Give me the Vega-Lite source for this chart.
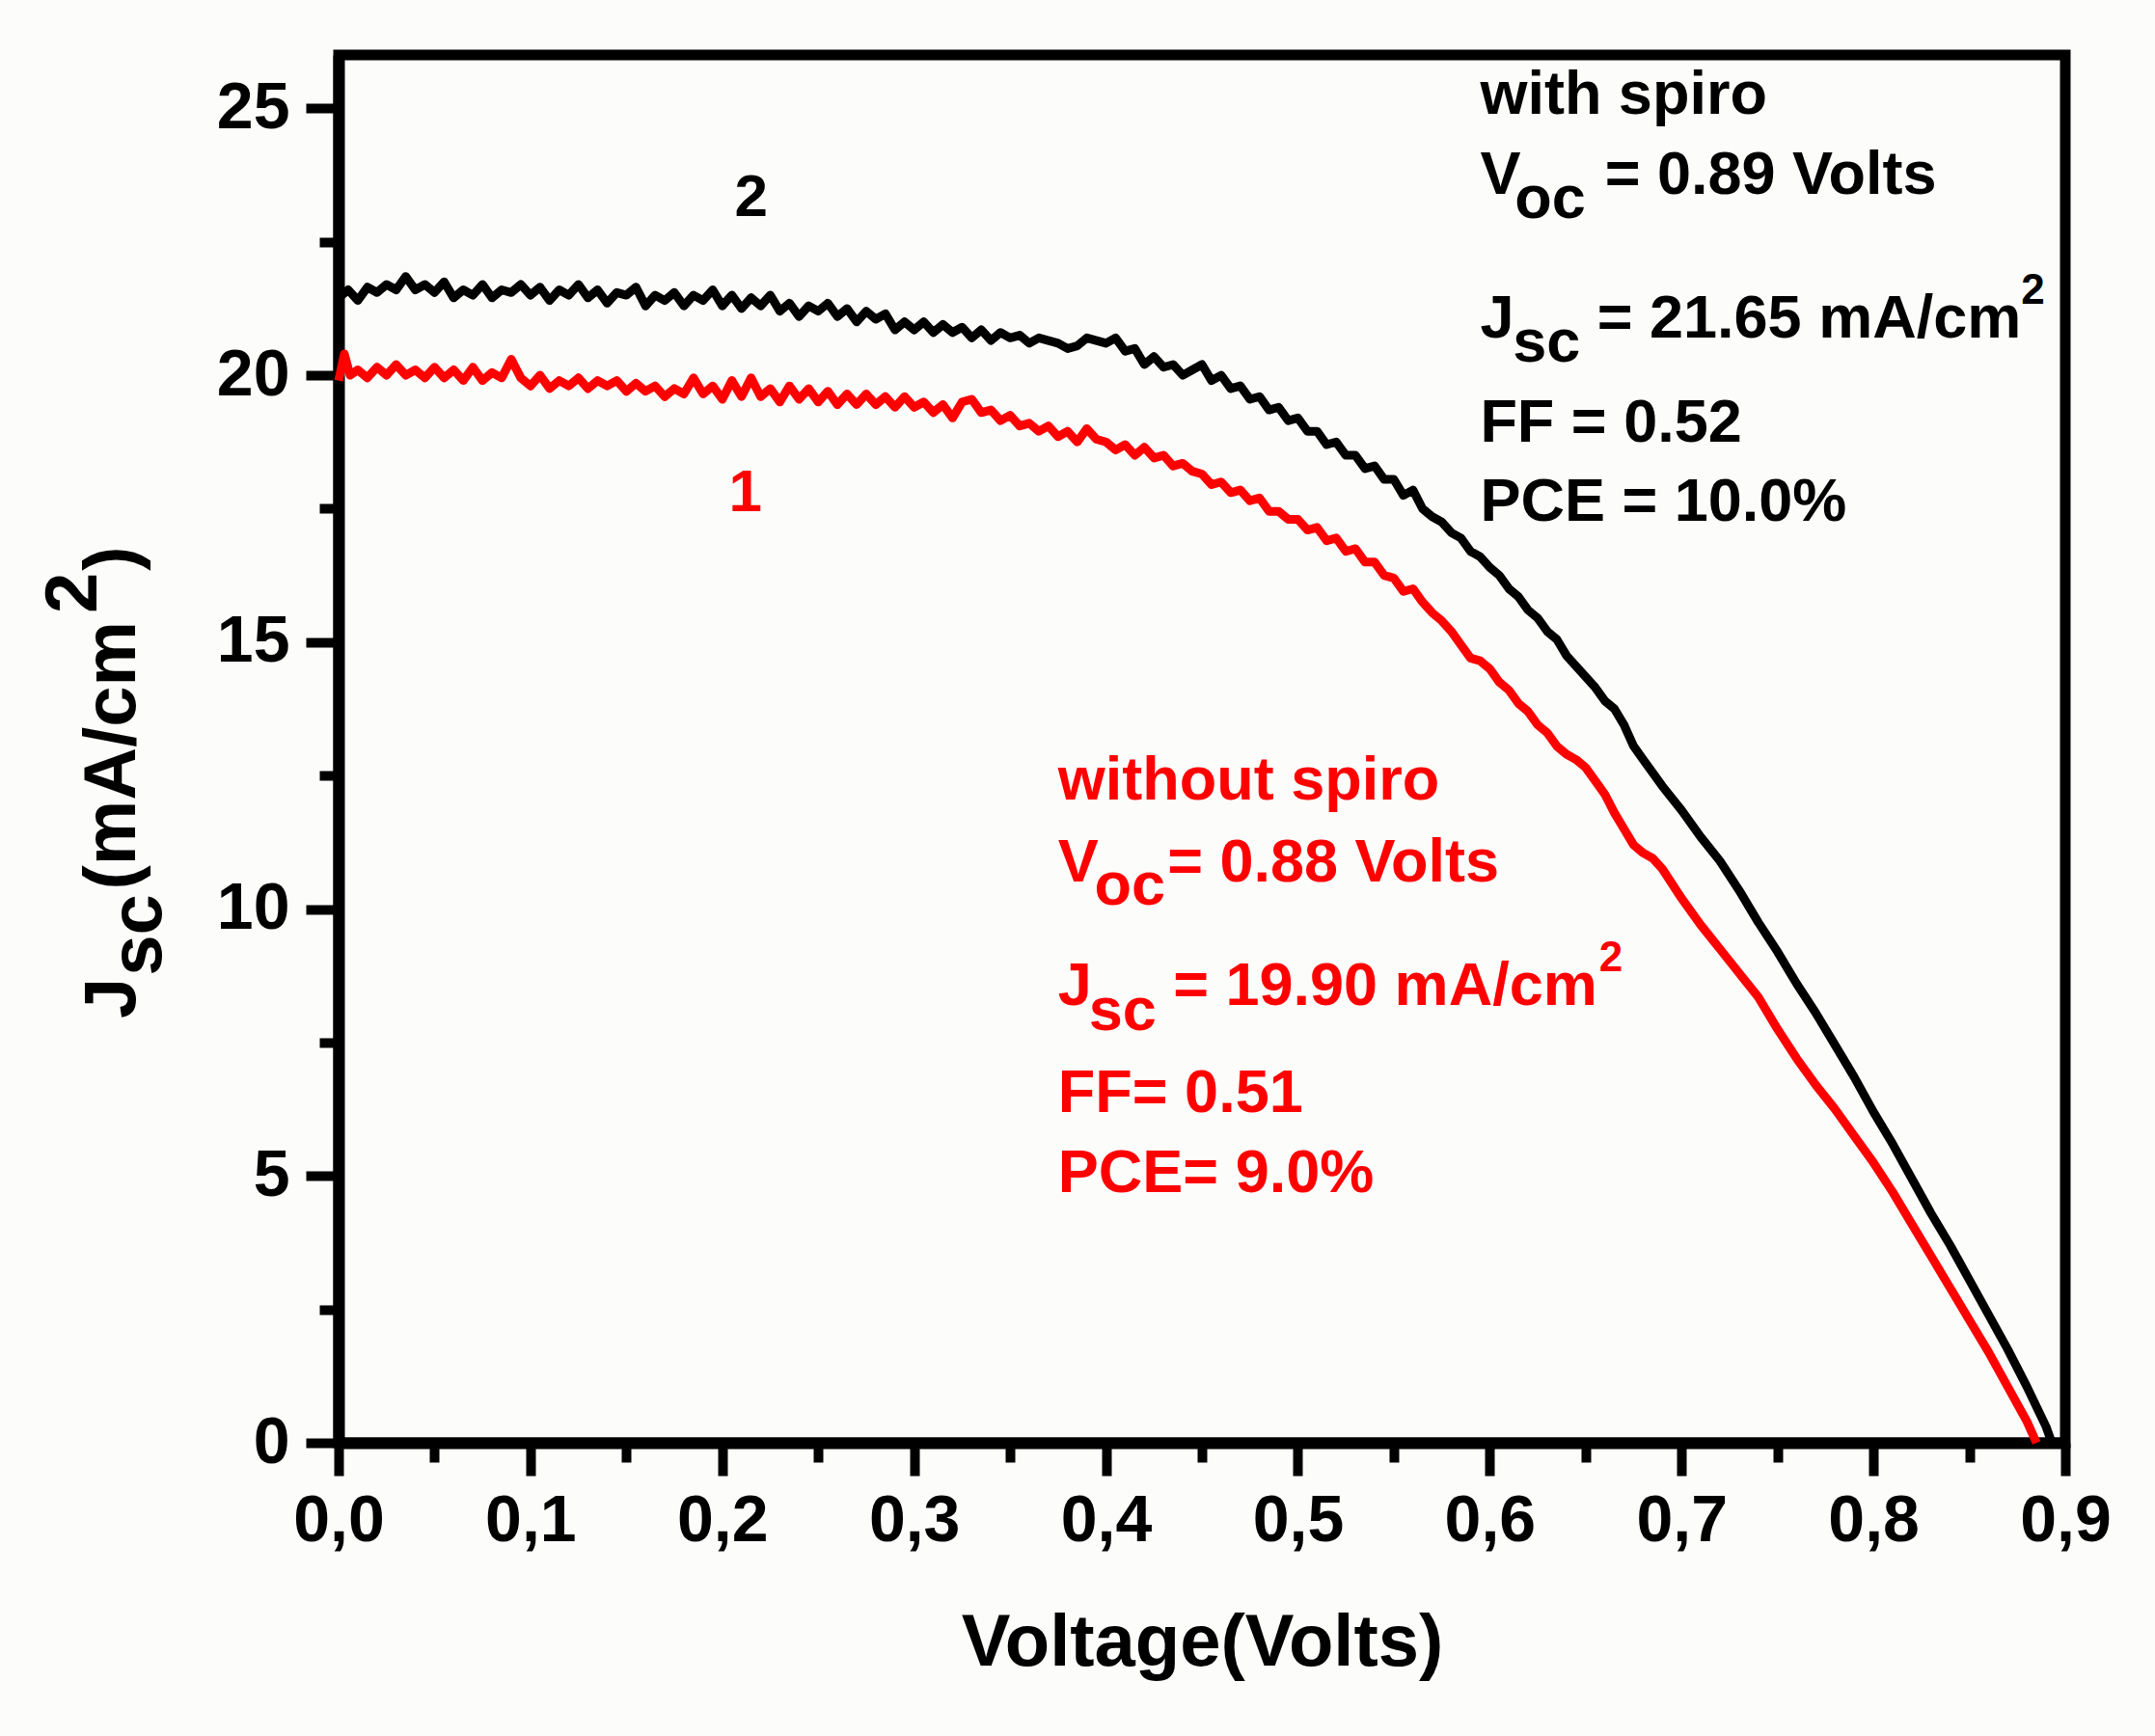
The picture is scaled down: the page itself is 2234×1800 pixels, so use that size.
{
  "$schema": "https://vega.github.io/schema/vega-lite/v6.json",
  "width": 1790,
  "height": 1439,
  "autosize": {"type": "none"},
  "padding": {"left": 351, "top": 57, "right": 93, "bottom": 304},
  "background": "#fcfcfb",
  "config": {
    "view": {"stroke": "#000000", "strokeWidth": 11},
    "font": "Liberation Sans",
    "text": {"font": "Liberation Sans", "fontWeight": "bold"}
  },
  "encoding": {
    "x": {
      "field": "V",
      "type": "quantitative",
      "scale": {"domain": [0, 0.9], "nice": false, "zero": false},
      "axis": {
        "title": "Voltage(Volts)",
        "values": [0, 0.05, 0.1, 0.15, 0.2, 0.25, 0.3, 0.35, 0.4, 0.45, 0.5, 0.55, 0.6, 0.65, 0.7, 0.75, 0.8, 0.85, 0.9],
        "labelExpr": "round(datum.value*100) % 10 === 0 ? replace(format(datum.value, '.1f'), '.', ',') : ''",
        "grid": false,
        "domainColor": "#000000",
        "domainWidth": 12,
        "tickColor": "#000000",
        "tickWidth": 10,
        "tickSize": {"condition": {"test": "round(datum.value*100) % 10 === 0", "value": 34}, "value": 20},
        "labelFont": "Liberation Sans",
        "labelFontWeight": "bold",
        "labelFontSize": 68,
        "labelColor": "#000000",
        "labelPadding": 13,
        "labelOverlap": false,
        "labelFlush": false,
        "titleFont": "Liberation Sans",
        "titleFontWeight": "bold",
        "titleFontSize": 76,
        "titleColor": "#000000",
        "titlePadding": 55
      }
    },
    "y": {
      "field": "J",
      "type": "quantitative",
      "scale": {"domain": [0, 26], "nice": false},
      "axis": {
        "title": null,
        "values": [0, 2.5, 5, 7.5, 10, 12.5, 15, 17.5, 20, 22.5, 25],
        "labelExpr": "datum.value % 5 === 0 ? format(datum.value, 'd') : ''",
        "grid": false,
        "domainColor": "#000000",
        "domainWidth": 12,
        "tickColor": "#000000",
        "tickWidth": 10,
        "tickSize": {"condition": {"test": "datum.value % 5 === 0", "value": 34}, "value": 20},
        "labelFont": "Liberation Sans",
        "labelFontWeight": "bold",
        "labelFontSize": 68,
        "labelColor": "#000000",
        "labelPadding": 17,
        "labelOverlap": false,
        "labelFlush": false
      }
    }
  },
  "layer": [
    {
      "data": {
        "values": [
          {"s": "with spiro", "V": 0.000, "J": 21.45},
          {"s": "with spiro", "V": 0.005, "J": 21.6},
          {"s": "with spiro", "V": 0.010, "J": 21.4},
          {"s": "with spiro", "V": 0.015, "J": 21.65},
          {"s": "with spiro", "V": 0.020, "J": 21.55},
          {"s": "with spiro", "V": 0.025, "J": 21.7},
          {"s": "with spiro", "V": 0.030, "J": 21.6},
          {"s": "with spiro", "V": 0.035, "J": 21.85},
          {"s": "with spiro", "V": 0.040, "J": 21.6},
          {"s": "with spiro", "V": 0.045, "J": 21.7},
          {"s": "with spiro", "V": 0.050, "J": 21.55},
          {"s": "with spiro", "V": 0.055, "J": 21.75},
          {"s": "with spiro", "V": 0.060, "J": 21.45},
          {"s": "with spiro", "V": 0.065, "J": 21.6},
          {"s": "with spiro", "V": 0.070, "J": 21.5},
          {"s": "with spiro", "V": 0.075, "J": 21.7},
          {"s": "with spiro", "V": 0.080, "J": 21.45},
          {"s": "with spiro", "V": 0.085, "J": 21.6},
          {"s": "with spiro", "V": 0.090, "J": 21.55},
          {"s": "with spiro", "V": 0.095, "J": 21.7},
          {"s": "with spiro", "V": 0.100, "J": 21.5},
          {"s": "with spiro", "V": 0.105, "J": 21.65},
          {"s": "with spiro", "V": 0.110, "J": 21.4},
          {"s": "with spiro", "V": 0.115, "J": 21.6},
          {"s": "with spiro", "V": 0.120, "J": 21.5},
          {"s": "with spiro", "V": 0.125, "J": 21.7},
          {"s": "with spiro", "V": 0.130, "J": 21.45},
          {"s": "with spiro", "V": 0.135, "J": 21.6},
          {"s": "with spiro", "V": 0.140, "J": 21.35},
          {"s": "with spiro", "V": 0.145, "J": 21.55},
          {"s": "with spiro", "V": 0.150, "J": 21.5},
          {"s": "with spiro", "V": 0.155, "J": 21.65},
          {"s": "with spiro", "V": 0.160, "J": 21.3},
          {"s": "with spiro", "V": 0.165, "J": 21.5},
          {"s": "with spiro", "V": 0.170, "J": 21.4},
          {"s": "with spiro", "V": 0.175, "J": 21.55},
          {"s": "with spiro", "V": 0.180, "J": 21.3},
          {"s": "with spiro", "V": 0.185, "J": 21.5},
          {"s": "with spiro", "V": 0.190, "J": 21.4},
          {"s": "with spiro", "V": 0.195, "J": 21.6},
          {"s": "with spiro", "V": 0.200, "J": 21.3},
          {"s": "with spiro", "V": 0.205, "J": 21.5},
          {"s": "with spiro", "V": 0.210, "J": 21.25},
          {"s": "with spiro", "V": 0.215, "J": 21.45},
          {"s": "with spiro", "V": 0.220, "J": 21.3},
          {"s": "with spiro", "V": 0.225, "J": 21.5},
          {"s": "with spiro", "V": 0.230, "J": 21.2},
          {"s": "with spiro", "V": 0.235, "J": 21.35},
          {"s": "with spiro", "V": 0.240, "J": 21.1},
          {"s": "with spiro", "V": 0.245, "J": 21.3},
          {"s": "with spiro", "V": 0.250, "J": 21.2},
          {"s": "with spiro", "V": 0.255, "J": 21.35},
          {"s": "with spiro", "V": 0.260, "J": 21.1},
          {"s": "with spiro", "V": 0.265, "J": 21.25},
          {"s": "with spiro", "V": 0.270, "J": 21.0},
          {"s": "with spiro", "V": 0.275, "J": 21.2},
          {"s": "with spiro", "V": 0.280, "J": 21.05},
          {"s": "with spiro", "V": 0.285, "J": 21.15},
          {"s": "with spiro", "V": 0.290, "J": 20.85},
          {"s": "with spiro", "V": 0.295, "J": 21.0},
          {"s": "with spiro", "V": 0.300, "J": 20.85},
          {"s": "with spiro", "V": 0.305, "J": 21.0},
          {"s": "with spiro", "V": 0.310, "J": 20.8},
          {"s": "with spiro", "V": 0.315, "J": 20.95},
          {"s": "with spiro", "V": 0.320, "J": 20.8},
          {"s": "with spiro", "V": 0.325, "J": 20.9},
          {"s": "with spiro", "V": 0.330, "J": 20.7},
          {"s": "with spiro", "V": 0.335, "J": 20.85},
          {"s": "with spiro", "V": 0.340, "J": 20.65},
          {"s": "with spiro", "V": 0.345, "J": 20.8},
          {"s": "with spiro", "V": 0.350, "J": 20.7},
          {"s": "with spiro", "V": 0.355, "J": 20.75},
          {"s": "with spiro", "V": 0.360, "J": 20.6},
          {"s": "with spiro", "V": 0.365, "J": 20.7},
          {"s": "with spiro", "V": 0.370, "J": 20.65},
          {"s": "with spiro", "V": 0.375, "J": 20.6},
          {"s": "with spiro", "V": 0.380, "J": 20.5},
          {"s": "with spiro", "V": 0.385, "J": 20.55},
          {"s": "with spiro", "V": 0.390, "J": 20.7},
          {"s": "with spiro", "V": 0.395, "J": 20.65},
          {"s": "with spiro", "V": 0.400, "J": 20.6},
          {"s": "with spiro", "V": 0.405, "J": 20.7},
          {"s": "with spiro", "V": 0.410, "J": 20.45},
          {"s": "with spiro", "V": 0.415, "J": 20.5},
          {"s": "with spiro", "V": 0.420, "J": 20.2},
          {"s": "with spiro", "V": 0.425, "J": 20.35},
          {"s": "with spiro", "V": 0.430, "J": 20.15},
          {"s": "with spiro", "V": 0.435, "J": 20.2},
          {"s": "with spiro", "V": 0.440, "J": 20.0},
          {"s": "with spiro", "V": 0.445, "J": 20.1},
          {"s": "with spiro", "V": 0.450, "J": 20.2},
          {"s": "with spiro", "V": 0.455, "J": 19.9},
          {"s": "with spiro", "V": 0.460, "J": 20.0},
          {"s": "with spiro", "V": 0.465, "J": 19.75},
          {"s": "with spiro", "V": 0.470, "J": 19.8},
          {"s": "with spiro", "V": 0.475, "J": 19.55},
          {"s": "with spiro", "V": 0.480, "J": 19.6},
          {"s": "with spiro", "V": 0.485, "J": 19.35},
          {"s": "with spiro", "V": 0.490, "J": 19.4},
          {"s": "with spiro", "V": 0.495, "J": 19.15},
          {"s": "with spiro", "V": 0.500, "J": 19.2},
          {"s": "with spiro", "V": 0.505, "J": 18.95},
          {"s": "with spiro", "V": 0.510, "J": 18.95},
          {"s": "with spiro", "V": 0.515, "J": 18.7},
          {"s": "with spiro", "V": 0.520, "J": 18.75},
          {"s": "with spiro", "V": 0.525, "J": 18.5},
          {"s": "with spiro", "V": 0.530, "J": 18.5},
          {"s": "with spiro", "V": 0.535, "J": 18.25},
          {"s": "with spiro", "V": 0.540, "J": 18.3},
          {"s": "with spiro", "V": 0.545, "J": 18.05},
          {"s": "with spiro", "V": 0.550, "J": 18.05},
          {"s": "with spiro", "V": 0.555, "J": 17.75},
          {"s": "with spiro", "V": 0.560, "J": 17.85},
          {"s": "with spiro", "V": 0.565, "J": 17.5},
          {"s": "with spiro", "V": 0.570, "J": 17.35},
          {"s": "with spiro", "V": 0.575, "J": 17.25},
          {"s": "with spiro", "V": 0.580, "J": 17.05},
          {"s": "with spiro", "V": 0.585, "J": 16.95},
          {"s": "with spiro", "V": 0.590, "J": 16.7},
          {"s": "with spiro", "V": 0.595, "J": 16.6},
          {"s": "with spiro", "V": 0.600, "J": 16.4},
          {"s": "with spiro", "V": 0.605, "J": 16.25},
          {"s": "with spiro", "V": 0.610, "J": 16.0},
          {"s": "with spiro", "V": 0.615, "J": 15.85},
          {"s": "with spiro", "V": 0.620, "J": 15.6},
          {"s": "with spiro", "V": 0.625, "J": 15.45},
          {"s": "with spiro", "V": 0.630, "J": 15.2},
          {"s": "with spiro", "V": 0.635, "J": 15.05},
          {"s": "with spiro", "V": 0.640, "J": 14.75},
          {"s": "with spiro", "V": 0.645, "J": 14.55},
          {"s": "with spiro", "V": 0.650, "J": 14.35},
          {"s": "with spiro", "V": 0.655, "J": 14.15},
          {"s": "with spiro", "V": 0.660, "J": 13.9},
          {"s": "with spiro", "V": 0.665, "J": 13.75},
          {"s": "with spiro", "V": 0.670, "J": 13.45},
          {"s": "with spiro", "V": 0.675, "J": 13.05},
          {"s": "with spiro", "V": 0.680, "J": 12.8},
          {"s": "with spiro", "V": 0.690, "J": 12.3},
          {"s": "with spiro", "V": 0.700, "J": 11.85},
          {"s": "with spiro", "V": 0.710, "J": 11.35},
          {"s": "with spiro", "V": 0.720, "J": 10.9},
          {"s": "with spiro", "V": 0.730, "J": 10.35},
          {"s": "with spiro", "V": 0.740, "J": 9.75},
          {"s": "with spiro", "V": 0.750, "J": 9.2},
          {"s": "with spiro", "V": 0.760, "J": 8.6},
          {"s": "with spiro", "V": 0.770, "J": 8.05},
          {"s": "with spiro", "V": 0.780, "J": 7.45},
          {"s": "with spiro", "V": 0.790, "J": 6.85},
          {"s": "with spiro", "V": 0.800, "J": 6.2},
          {"s": "with spiro", "V": 0.810, "J": 5.6},
          {"s": "with spiro", "V": 0.820, "J": 4.95},
          {"s": "with spiro", "V": 0.830, "J": 4.3},
          {"s": "with spiro", "V": 0.840, "J": 3.7},
          {"s": "with spiro", "V": 0.850, "J": 3.05},
          {"s": "with spiro", "V": 0.860, "J": 2.4},
          {"s": "with spiro", "V": 0.870, "J": 1.75},
          {"s": "with spiro", "V": 0.880, "J": 1.05},
          {"s": "with spiro", "V": 0.890, "J": 0.3},
          {"s": "with spiro", "V": 0.893, "J": 0.0},
          {"s": "without spiro", "V": 0.000, "J": 19.9},
          {"s": "without spiro", "V": 0.003, "J": 20.4},
          {"s": "without spiro", "V": 0.006, "J": 20.0},
          {"s": "without spiro", "V": 0.010, "J": 20.1},
          {"s": "without spiro", "V": 0.015, "J": 19.95},
          {"s": "without spiro", "V": 0.020, "J": 20.15},
          {"s": "without spiro", "V": 0.025, "J": 20.0},
          {"s": "without spiro", "V": 0.030, "J": 20.2},
          {"s": "without spiro", "V": 0.035, "J": 20.0},
          {"s": "without spiro", "V": 0.040, "J": 20.1},
          {"s": "without spiro", "V": 0.045, "J": 19.95},
          {"s": "without spiro", "V": 0.050, "J": 20.15},
          {"s": "without spiro", "V": 0.055, "J": 19.95},
          {"s": "without spiro", "V": 0.060, "J": 20.1},
          {"s": "without spiro", "V": 0.065, "J": 19.9},
          {"s": "without spiro", "V": 0.070, "J": 20.15},
          {"s": "without spiro", "V": 0.075, "J": 19.9},
          {"s": "without spiro", "V": 0.080, "J": 20.05},
          {"s": "without spiro", "V": 0.085, "J": 19.95},
          {"s": "without spiro", "V": 0.090, "J": 20.3},
          {"s": "without spiro", "V": 0.095, "J": 19.95},
          {"s": "without spiro", "V": 0.100, "J": 19.8},
          {"s": "without spiro", "V": 0.105, "J": 20.0},
          {"s": "without spiro", "V": 0.110, "J": 19.75},
          {"s": "without spiro", "V": 0.115, "J": 19.9},
          {"s": "without spiro", "V": 0.120, "J": 19.8},
          {"s": "without spiro", "V": 0.125, "J": 19.95},
          {"s": "without spiro", "V": 0.130, "J": 19.75},
          {"s": "without spiro", "V": 0.135, "J": 19.9},
          {"s": "without spiro", "V": 0.140, "J": 19.8},
          {"s": "without spiro", "V": 0.145, "J": 19.9},
          {"s": "without spiro", "V": 0.150, "J": 19.7},
          {"s": "without spiro", "V": 0.155, "J": 19.85},
          {"s": "without spiro", "V": 0.160, "J": 19.7},
          {"s": "without spiro", "V": 0.165, "J": 19.8},
          {"s": "without spiro", "V": 0.170, "J": 19.6},
          {"s": "without spiro", "V": 0.175, "J": 19.75},
          {"s": "without spiro", "V": 0.180, "J": 19.65},
          {"s": "without spiro", "V": 0.185, "J": 19.95},
          {"s": "without spiro", "V": 0.190, "J": 19.65},
          {"s": "without spiro", "V": 0.195, "J": 19.8},
          {"s": "without spiro", "V": 0.200, "J": 19.55},
          {"s": "without spiro", "V": 0.205, "J": 19.9},
          {"s": "without spiro", "V": 0.210, "J": 19.6},
          {"s": "without spiro", "V": 0.215, "J": 19.95},
          {"s": "without spiro", "V": 0.220, "J": 19.6},
          {"s": "without spiro", "V": 0.225, "J": 19.75},
          {"s": "without spiro", "V": 0.230, "J": 19.5},
          {"s": "without spiro", "V": 0.235, "J": 19.8},
          {"s": "without spiro", "V": 0.240, "J": 19.55},
          {"s": "without spiro", "V": 0.245, "J": 19.75},
          {"s": "without spiro", "V": 0.250, "J": 19.5},
          {"s": "without spiro", "V": 0.255, "J": 19.7},
          {"s": "without spiro", "V": 0.260, "J": 19.45},
          {"s": "without spiro", "V": 0.265, "J": 19.65},
          {"s": "without spiro", "V": 0.270, "J": 19.45},
          {"s": "without spiro", "V": 0.275, "J": 19.65},
          {"s": "without spiro", "V": 0.280, "J": 19.45},
          {"s": "without spiro", "V": 0.285, "J": 19.6},
          {"s": "without spiro", "V": 0.290, "J": 19.4},
          {"s": "without spiro", "V": 0.295, "J": 19.6},
          {"s": "without spiro", "V": 0.300, "J": 19.4},
          {"s": "without spiro", "V": 0.305, "J": 19.5},
          {"s": "without spiro", "V": 0.310, "J": 19.3},
          {"s": "without spiro", "V": 0.315, "J": 19.45},
          {"s": "without spiro", "V": 0.320, "J": 19.2},
          {"s": "without spiro", "V": 0.325, "J": 19.5},
          {"s": "without spiro", "V": 0.330, "J": 19.55},
          {"s": "without spiro", "V": 0.335, "J": 19.3},
          {"s": "without spiro", "V": 0.340, "J": 19.35},
          {"s": "without spiro", "V": 0.345, "J": 19.15},
          {"s": "without spiro", "V": 0.350, "J": 19.25},
          {"s": "without spiro", "V": 0.355, "J": 19.05},
          {"s": "without spiro", "V": 0.360, "J": 19.1},
          {"s": "without spiro", "V": 0.365, "J": 18.95},
          {"s": "without spiro", "V": 0.370, "J": 19.05},
          {"s": "without spiro", "V": 0.375, "J": 18.85},
          {"s": "without spiro", "V": 0.380, "J": 18.95},
          {"s": "without spiro", "V": 0.385, "J": 18.75},
          {"s": "without spiro", "V": 0.390, "J": 19.0},
          {"s": "without spiro", "V": 0.395, "J": 18.8},
          {"s": "without spiro", "V": 0.400, "J": 18.75},
          {"s": "without spiro", "V": 0.405, "J": 18.6},
          {"s": "without spiro", "V": 0.410, "J": 18.7},
          {"s": "without spiro", "V": 0.415, "J": 18.5},
          {"s": "without spiro", "V": 0.420, "J": 18.65},
          {"s": "without spiro", "V": 0.425, "J": 18.45},
          {"s": "without spiro", "V": 0.430, "J": 18.5},
          {"s": "without spiro", "V": 0.435, "J": 18.3},
          {"s": "without spiro", "V": 0.440, "J": 18.35},
          {"s": "without spiro", "V": 0.445, "J": 18.2},
          {"s": "without spiro", "V": 0.450, "J": 18.15},
          {"s": "without spiro", "V": 0.455, "J": 17.95},
          {"s": "without spiro", "V": 0.460, "J": 18.0},
          {"s": "without spiro", "V": 0.465, "J": 17.8},
          {"s": "without spiro", "V": 0.470, "J": 17.85},
          {"s": "without spiro", "V": 0.475, "J": 17.65},
          {"s": "without spiro", "V": 0.480, "J": 17.7},
          {"s": "without spiro", "V": 0.485, "J": 17.45},
          {"s": "without spiro", "V": 0.490, "J": 17.45},
          {"s": "without spiro", "V": 0.495, "J": 17.3},
          {"s": "without spiro", "V": 0.500, "J": 17.3},
          {"s": "without spiro", "V": 0.505, "J": 17.1},
          {"s": "without spiro", "V": 0.510, "J": 17.15},
          {"s": "without spiro", "V": 0.515, "J": 16.9},
          {"s": "without spiro", "V": 0.520, "J": 16.95},
          {"s": "without spiro", "V": 0.525, "J": 16.7},
          {"s": "without spiro", "V": 0.530, "J": 16.75},
          {"s": "without spiro", "V": 0.535, "J": 16.5},
          {"s": "without spiro", "V": 0.540, "J": 16.5},
          {"s": "without spiro", "V": 0.545, "J": 16.25},
          {"s": "without spiro", "V": 0.550, "J": 16.2},
          {"s": "without spiro", "V": 0.555, "J": 15.95},
          {"s": "without spiro", "V": 0.560, "J": 16.0},
          {"s": "without spiro", "V": 0.565, "J": 15.75},
          {"s": "without spiro", "V": 0.570, "J": 15.55},
          {"s": "without spiro", "V": 0.575, "J": 15.4},
          {"s": "without spiro", "V": 0.580, "J": 15.2},
          {"s": "without spiro", "V": 0.585, "J": 14.95},
          {"s": "without spiro", "V": 0.590, "J": 14.7},
          {"s": "without spiro", "V": 0.595, "J": 14.65},
          {"s": "without spiro", "V": 0.600, "J": 14.5},
          {"s": "without spiro", "V": 0.605, "J": 14.25},
          {"s": "without spiro", "V": 0.610, "J": 14.1},
          {"s": "without spiro", "V": 0.615, "J": 13.85},
          {"s": "without spiro", "V": 0.620, "J": 13.7},
          {"s": "without spiro", "V": 0.625, "J": 13.45},
          {"s": "without spiro", "V": 0.630, "J": 13.3},
          {"s": "without spiro", "V": 0.635, "J": 13.05},
          {"s": "without spiro", "V": 0.640, "J": 12.9},
          {"s": "without spiro", "V": 0.645, "J": 12.8},
          {"s": "without spiro", "V": 0.650, "J": 12.65},
          {"s": "without spiro", "V": 0.655, "J": 12.4},
          {"s": "without spiro", "V": 0.660, "J": 12.15},
          {"s": "without spiro", "V": 0.665, "J": 11.8},
          {"s": "without spiro", "V": 0.670, "J": 11.5},
          {"s": "without spiro", "V": 0.675, "J": 11.2},
          {"s": "without spiro", "V": 0.680, "J": 11.05},
          {"s": "without spiro", "V": 0.685, "J": 10.95},
          {"s": "without spiro", "V": 0.690, "J": 10.75},
          {"s": "without spiro", "V": 0.700, "J": 10.2},
          {"s": "without spiro", "V": 0.710, "J": 9.7},
          {"s": "without spiro", "V": 0.720, "J": 9.25},
          {"s": "without spiro", "V": 0.730, "J": 8.8},
          {"s": "without spiro", "V": 0.740, "J": 8.35},
          {"s": "without spiro", "V": 0.750, "J": 7.75},
          {"s": "without spiro", "V": 0.760, "J": 7.2},
          {"s": "without spiro", "V": 0.770, "J": 6.7},
          {"s": "without spiro", "V": 0.780, "J": 6.25},
          {"s": "without spiro", "V": 0.790, "J": 5.75},
          {"s": "without spiro", "V": 0.800, "J": 5.25},
          {"s": "without spiro", "V": 0.810, "J": 4.7},
          {"s": "without spiro", "V": 0.820, "J": 4.1},
          {"s": "without spiro", "V": 0.830, "J": 3.5},
          {"s": "without spiro", "V": 0.840, "J": 2.9},
          {"s": "without spiro", "V": 0.850, "J": 2.3},
          {"s": "without spiro", "V": 0.860, "J": 1.7},
          {"s": "without spiro", "V": 0.870, "J": 1.05},
          {"s": "without spiro", "V": 0.880, "J": 0.4},
          {"s": "without spiro", "V": 0.885, "J": 0.0}
        ]
      },
      "mark": {"type": "line", "strokeWidth": 9, "strokeJoin": "round"},
      "encoding": {
        "color": {
          "field": "s",
          "type": "nominal",
          "scale": {"domain": ["with spiro", "without spiro"], "range": ["#000000", "#ff0000"]},
          "legend": null
        }
      }
    },
    {
      "data": {
        "values": [
          {"s": "with spiro", "V": 0.595, "J": 24.9, "t": "with spiro"},
          {"s": "with spiro", "V": 0.595, "J": 23.4, "t": "V"},
          {"s": "with spiro", "V": 0.613, "J": 22.94, "t": "oc"},
          {"s": "with spiro", "V": 0.66, "J": 23.4, "t": "= 0.89 Volts"},
          {"s": "with spiro", "V": 0.595, "J": 20.7, "t": "J"},
          {"s": "with spiro", "V": 0.612, "J": 20.26, "t": "sc"},
          {"s": "with spiro", "V": 0.656, "J": 20.7, "t": "= 21.65 mA/cm"},
          {"s": "with spiro", "V": 0.595, "J": 18.76, "t": "FF = 0.52"},
          {"s": "with spiro", "V": 0.595, "J": 17.27, "t": "PCE = 10.0%"},
          {"s": "without spiro", "V": 0.375, "J": 12.06, "t": "without spiro"},
          {"s": "without spiro", "V": 0.375, "J": 10.52, "t": "V"},
          {"s": "without spiro", "V": 0.394, "J": 10.08, "t": "oc"},
          {"s": "without spiro", "V": 0.432, "J": 10.52, "t": "= 0.88 Volts"},
          {"s": "without spiro", "V": 0.375, "J": 8.2, "t": "J"},
          {"s": "without spiro", "V": 0.391, "J": 7.73, "t": "sc"},
          {"s": "without spiro", "V": 0.435, "J": 8.2, "t": "= 19.90 mA/cm"},
          {"s": "without spiro", "V": 0.375, "J": 6.19, "t": "FF= 0.51"},
          {"s": "without spiro", "V": 0.375, "J": 4.69, "t": "PCE= 9.0%"}
        ]
      },
      "mark": {"type": "text", "fontSize": 63, "align": "left", "baseline": "alphabetic"},
      "encoding": {
        "text": {"field": "t"},
        "color": {"field": "s", "type": "nominal", "legend": null}
      }
    },
    {
      "data": {
        "values": [
          {"s": "with spiro", "V": 0.877, "J": 21.34, "t": "2"},
          {"s": "without spiro", "V": 0.657, "J": 8.84, "t": "2"}
        ]
      },
      "mark": {"type": "text", "fontSize": 44, "align": "left", "baseline": "alphabetic"},
      "encoding": {
        "text": {"field": "t"},
        "color": {"field": "s", "type": "nominal", "legend": null}
      }
    },
    {
      "data": {
        "values": [
          {"s": "with spiro", "V": 0.215, "J": 22.99, "t": "2"},
          {"s": "without spiro", "V": 0.212, "J": 17.46, "t": "1"}
        ]
      },
      "mark": {"type": "text", "fontSize": 62, "align": "center", "baseline": "alphabetic"},
      "encoding": {
        "text": {"field": "t"},
        "color": {"field": "s", "type": "nominal", "legend": null}
      }
    },
    {
      "data": {
        "values": [
          {"V": -0.106, "J": 7.95, "t": "J"},
          {"V": -0.0925, "J": 8.75, "t": "sc"},
          {"V": -0.106, "J": 10.36, "t": "(mA/cm"},
          {"V": -0.1262, "J": 15.54, "t": "2"},
          {"V": -0.106, "J": 16.34, "t": ")"}
        ]
      },
      "mark": {"type": "text", "fontSize": 76, "angle": 270, "align": "left", "baseline": "alphabetic", "color": "#000000"},
      "encoding": {
        "text": {"field": "t"}
      }
    }
  ]
}
